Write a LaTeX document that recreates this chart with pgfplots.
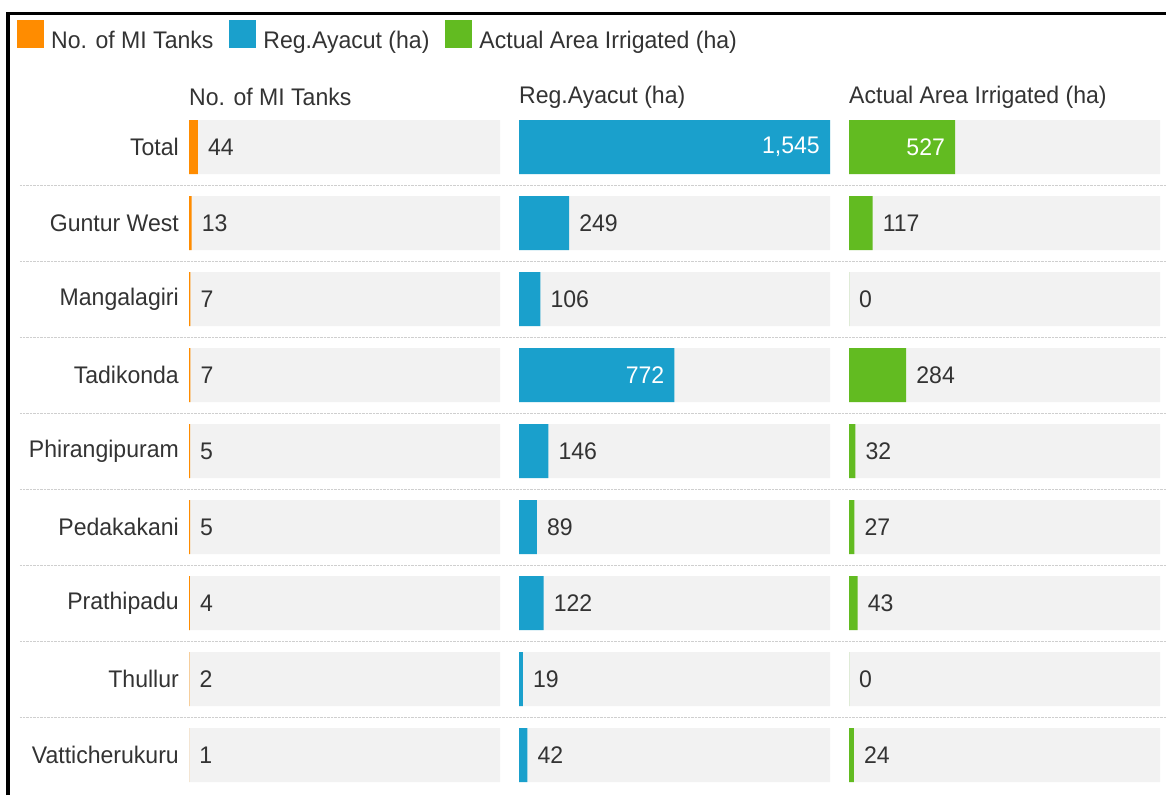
\documentclass[border=0pt]{standalone}
\usepackage{fontspec}
\setmainfont{Liberation Sans}[FakeStretch=0.96]
\usepackage{pgfplots}
\usepackage{pgfplotstable}
\pgfplotsset{compat=1.18}

\definecolor{tankC}{HTML}{FF8C00}
\definecolor{ayaC}{HTML}{1AA0CC}
\definecolor{irrC}{HTML}{62BB21}
\definecolor{trackC}{HTML}{F2F2F2}
\definecolor{txtC}{HTML}{333333}
\definecolor{sepC}{HTML}{CFCFCF}

% rows top to bottom: Total, Guntur West, Mangalagiri, Tadikonda, Phirangipuram,
% Pedakakani, Prathipadu, Thullur, Vatticherukuru
\pgfplotstableread{
idx tanks ayacut irrig track
0   44    1545   527   1545
1   13    249    117   1545
2   7     106    0     1545
3   7     772    284   1545
4   5     146    32    1545
5   5     89     27    1545
6   4     122    43    1545
7   2     19     0     1545
8   1     42     24    1545
}\datatable

\pgfplotsset{
  panel/.style={
    scale only axis,
    width=311pt, height=684pt,
    xmin=0, xmax=1545,
    ymin=-0.5, ymax=8.5,
    y dir=reverse,
    xbar, bar width=54pt, bar shift=0pt,
    axis line style={draw=none},
    xtick=\empty, ytick=\empty,
    clip=false,
    title style={at={(0,1)}, anchor=west, yshift=6pt, text=txtC, inner xsep=0pt},
    /pgf/number format/assume math mode=true,
  },
  track/.style={fill=trackC, draw=none, forget plot},
  lbl/.style={
    draw=none, fill=none,
    point meta=x,
    nodes near coords={\pgfmathprintnumber[fixed,precision=0,1000 sep={,}]{\pgfplotspointmeta}},
  },
  % value written right of the bar
  lblout/.style={lbl,
    x filter/.expression={x>400 ? nan : x},
    every node near coord/.append style={anchor=west, inner xsep=10pt, text=txtC}},
  % value written inside a long bar
  lblin/.style={lbl,
    x filter/.expression={x>400 ? x : nan},
    nodes near coords align={anchor=east},
    every node near coord/.append style={anchor=east, inner xsep=10pt, text=white}},
}

\begin{document}
\begin{tikzpicture}[font=\fontsize{24}{28}\selectfont, text=txtC]
\useasboundingbox (0pt,0pt) rectangle (1166pt,-795pt);

% background: row separators and legend
\begin{axis}[
  at={(20pt,-109pt)}, anchor=north west,
  scale only axis, width=1146pt, height=684pt,
  xmin=0, xmax=1, ymin=-0.5, ymax=8.5, y dir=reverse,
  axis line style={draw=none}, xtick=\empty,
  ytick={0.5,1.5,...,7.5}, yticklabels={}, major tick length=0pt,
  ymajorgrids, grid style={sepC, densely dotted, line width=1pt},
  clip=false,
  legend columns=3,
  legend style={at={(-0.0026,1.108)}, anchor=west, draw=none, fill=none,
    inner sep=0pt, text=txtC,
    nodes={inner sep=0pt, inner xsep=7pt},
    /tikz/every even column/.append style={column sep=9pt}},
]
\addlegendimage{legend image code/.code={\fill (-7pt,-7pt) rectangle (20pt,21pt);}, fill=tankC, draw=none}
\addlegendentry{No. of MI Tanks}
\addlegendimage{legend image code/.code={\fill (-7pt,-7pt) rectangle (20pt,21pt);}, fill=ayaC, draw=none}
\addlegendentry{Reg.Ayacut (ha)}
\addlegendimage{legend image code/.code={\fill (-7pt,-7pt) rectangle (20pt,21pt);}, fill=irrC, draw=none}
\addlegendentry{Actual Area Irrigated (ha)}
\end{axis}

% panel 1: number of tanks
\begin{axis}[panel, at={(189pt,-109pt)}, anchor=north west,
  title={No. of MI Tanks},
  ytick={0,...,8},
  yticklabels={Total,Guntur West,Mangalagiri,Tadikonda,Phirangipuram,Pedakakani,Prathipadu,Thullur,Vatticherukuru},
  major tick length=0pt,
  yticklabel style={anchor=east, inner xsep=10pt, text=txtC},
]
\addplot[track] table[x=track, y=idx] {\datatable};
\addplot[fill=tankC, draw=none] table[x=tanks, y=idx] {\datatable};
\addplot[lblout] table[x=tanks, y=idx] {\datatable};
\addplot[lblin] table[x=tanks, y=idx] {\datatable};
\end{axis}

% panel 2: registered ayacut
\begin{axis}[panel, at={(519pt,-109pt)}, anchor=north west,
  title={Reg.Ayacut (ha)},
]
\addplot[track] table[x=track, y=idx] {\datatable};
\addplot[fill=ayaC, draw=none] table[x=ayacut, y=idx] {\datatable};
\addplot[lblout] table[x=ayacut, y=idx] {\datatable};
\addplot[lblin] table[x=ayacut, y=idx] {\datatable};
\end{axis}

% panel 3: actual area irrigated
\begin{axis}[panel, at={(849pt,-109pt)}, anchor=north west,
  title={Actual Area Irrigated (ha)},
]
\addplot[track] table[x=track, y=idx] {\datatable};
\addplot[fill=irrC, draw=none] table[x=irrig, y=idx] {\datatable};
\addplot[lblout] table[x=irrig, y=idx] {\datatable};
\addplot[lblin] table[x=irrig, y=idx] {\datatable};
\end{axis}

% screenshot frame
\draw[black, line width=3.5pt] (8pt,-795pt) -- (8pt,-13.5pt) -- (1166pt,-13.5pt);
\end{tikzpicture}
\end{document}
